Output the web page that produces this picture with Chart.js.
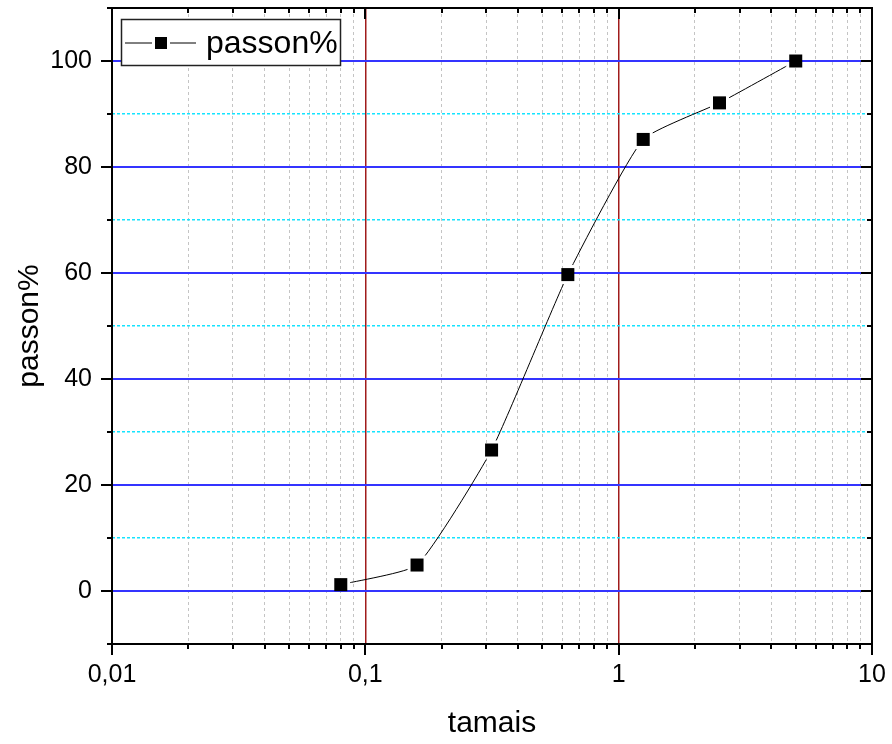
<!DOCTYPE html>
<html>
<head>
<meta charset="utf-8">
<script src="https://cdn.jsdelivr.net/npm/chart.js@4.4.1/dist/chart.umd.min.js"></script>
<style>
  html, body { margin: 0; padding: 0; background: #fff; }
  #wrap { width: 892px; height: 744px; }
</style>
</head>
<body>
<div id="wrap"><canvas id="chart" width="892" height="744"></canvas></div>
<script>
// sieve sizes (tamais) and passing percentage
const sizes = [0.08, 0.16, 0.315, 0.63, 1.25, 2.5, 5];
const passing = [1.2, 4.9, 26.6, 59.7, 85.2, 92.1, 100];

const xTickValues = [0.01, 0.1, 1, 10];
const xTickText = ["0,01", "0,1", "1", "10"];
const yTickValues = [0, 20, 40, 60, 80, 100];

const seriesLabel = "passon%";
const xTitle = "tamais";
const yTitle = "passon%";

const FONT = '"Liberation Sans", Arial, sans-serif';

function isDecade(v) {
  const l = Math.log10(v);
  return Math.abs(l - Math.round(l)) < 1e-6;
}

function xLabel(v) {
  const i = xTickValues.findIndex((t) => Math.abs(v - t) / t < 1e-6);
  return i >= 0 ? xTickText[i] : "";
}

// box frame with ticks on all four sides (outward bottom/left, inward top/right)
const framePlugin = {
  id: "frame",
  afterDraw(chart) {
    const { ctx, chartArea: a, scales } = chart;
    ctx.save();
    ctx.strokeStyle = "#000";
    ctx.lineWidth = 2;
    ctx.beginPath();
    scales.x.ticks.forEach((t) => {
      const px = Math.round(scales.x.getPixelForValue(t.value));
      const len = isDecade(t.value) ? 11 : 5;
      ctx.moveTo(px, a.bottom);
      ctx.lineTo(px, a.bottom + len);
      ctx.moveTo(px, a.top);
      ctx.lineTo(px, a.top + len);
    });
    scales.y.ticks.forEach((t) => {
      const py = Math.round(scales.y.getPixelForValue(t.value));
      const len = t.value % 20 === 0 ? 11 : 5;
      ctx.moveTo(a.left, py);
      ctx.lineTo(a.left - len, py);
      ctx.moveTo(a.right, py);
      ctx.lineTo(a.right - len, py);
    });
    ctx.stroke();
    ctx.strokeRect(a.left, a.top, a.right - a.left, a.bottom - a.top);
    ctx.restore();
  },
};

// leave a small gap in the connecting line around each marker
const gapPlugin = {
  id: "markerGap",
  beforeDatasetDraw(chart, args) {
    if (args.index !== 0) return;
    const { ctx } = chart;
    const pts = chart.getDatasetMeta(1).data;
    ctx.save();
    ctx.beginPath();
    ctx.rect(0, 0, chart.width, chart.height);
    pts.forEach((p) => ctx.rect(p.x - 9.5, p.y - 9.5, 19, 19));
    ctx.clip("evenodd");
  },
  afterDatasetDraw(chart, args) {
    if (args.index !== 0) return;
    chart.ctx.restore();
  },
};

// legend box inside the plot, top-left
const legendPlugin = {
  id: "boxLegend",
  afterDatasetsDraw(chart) {
    const { ctx, chartArea: a } = chart;
    const ds = chart.data.datasets[1];
    const x0 = a.left + 9;
    const y0 = a.top + 11;
    ctx.save();
    ctx.fillStyle = "#fff";
    ctx.fillRect(x0, y0, 220, 47);
    ctx.strokeStyle = "#222";
    ctx.lineWidth = 1.5;
    ctx.strokeRect(x0 + 0.5, y0 + 0.5, 219, 46);
    const cy = y0 + 24;
    ctx.strokeStyle = "#000";
    ctx.lineWidth = 1;
    ctx.beginPath();
    ctx.moveTo(x0 + 4, cy);
    ctx.lineTo(x0 + 31, cy);
    ctx.moveTo(x0 + 49, cy);
    ctx.lineTo(x0 + 75, cy);
    ctx.stroke();
    ctx.fillStyle = "#000";
    ctx.fillRect(x0 + 34, cy - 6, 12, 12);
    ctx.font = "32px " + FONT;
    ctx.textBaseline = "alphabetic";
    ctx.fillText(ds.label, x0 + 85, cy + 10);
    ctx.restore();
  },
};

const points = sizes.map((x, i) => ({ x, y: passing[i] }));

new Chart(document.getElementById("chart"), {
  type: "line",
  data: {
    datasets: [
      {
        label: "line",
        data: points,
        borderColor: "#000",
        borderWidth: 1,
        tension: 0.15,
        pointRadius: 0,
      },
      {
        label: seriesLabel,
        data: points,
        showLine: false,
        pointStyle: "rect",
        pointRadius: 9.2,
        pointBackgroundColor: "#000",
        pointBorderColor: "#000",
        pointBorderWidth: 0,
      },
    ],
  },
  options: {
    responsive: false,
    animation: false,
    devicePixelRatio: 1,
    layout: { autoPadding: false, padding: { top: 8, right: 20, left: 0, bottom: 0 } },
    plugins: {
      legend: { display: false },
      tooltip: { enabled: false },
    },
    scales: {
      x: {
        type: "logarithmic",
        min: 0.01,
        max: 10,
        border: {
          display: false,
          dash: (c) => (c.tick && !isDecade(c.tick.value) ? [3, 3] : []),
        },
        grid: {
          drawTicks: false,
          color: (c) => {
            const v = c.tick ? c.tick.value : 0;
            if (v <= 0.01000001 || v >= 9.99999) return "rgba(0,0,0,0)";
            return isDecade(v) ? "#a01c1c" : "#c4c4c4";
          },
          lineWidth: (c) => (c.tick && isDecade(c.tick.value) ? 1.5 : 1),
        },
        ticks: {
          autoSkip: false,
          maxRotation: 0,
          padding: 16,
          color: "#000",
          font: { family: FONT, size: 25 },
          callback: (v) => xLabel(v),
        },
        // keep only 1..9 x 10^n minor ticks
        afterBuildTicks: (s) => {
          s.ticks = s.ticks.filter((t) => {
            const m = t.value / Math.pow(10, Math.floor(Math.log10(t.value) + 1e-9));
            return Math.abs(m - Math.round(m)) < 1e-6;
          });
        },
        title: {
          display: true,
          text: xTitle,
          color: "#000",
          font: { family: FONT, size: 30 },
          padding: { top: 0, bottom: 2 },
        },
        afterFit: (s) => {
          s.height = 100;
          s.paddingLeft = 0;
          s.paddingRight = 0;
        },
      },
      y: {
        min: -10,
        max: 110,
        border: {
          display: false,
          dash: (c) => (c.tick && c.tick.value % 20 !== 0 ? [3, 2] : []),
        },
        grid: {
          drawTicks: false,
          color: (c) => {
            const v = c.tick ? c.tick.value : 0;
            if (v <= -10 || v >= 110) return "rgba(0,0,0,0)";
            return v % 20 === 0 ? "#3434ff" : "#14e4ff";
          },
          lineWidth: (c) => (c.tick && c.tick.value % 20 === 0 ? 2 : 1.5),
        },
        ticks: {
          stepSize: 10,
          autoSkip: false,
          padding: 20,
          color: "#000",
          font: { family: FONT, size: 25 },
          callback: (v) => (yTickValues.includes(v) ? String(v) : ""),
        },
        title: {
          display: true,
          text: yTitle,
          color: "#000",
          font: { family: FONT, size: 30 },
          padding: { top: 12, bottom: 0 },
        },
        afterFit: (s) => {
          s.width = 112;
          s.paddingTop = 0;
          s.paddingBottom = 0;
        },
      },
    },
  },
  plugins: [gapPlugin, legendPlugin, framePlugin],
});
</script>
</body>
</html>
